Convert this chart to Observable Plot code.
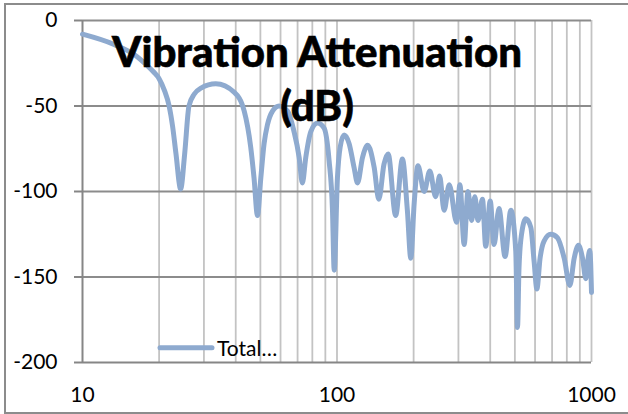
<!DOCTYPE html>
<html><head><meta charset="utf-8">
<script src="https://cdn.jsdelivr.net/npm/d3@7"></script>
<script src="https://cdn.jsdelivr.net/npm/@observablehq/plot@0.6"></script>
<style>
body{margin:0;background:#fff;}
#wrap{position:relative;width:628px;height:414px;overflow:hidden;font-family:Lato,sans-serif;background:#fff;}
#border{position:absolute;left:4px;top:3px;width:660px;height:411px;border:2px solid #8c8c8c;box-sizing:border-box;}
#chart{position:absolute;left:0;top:0;}
#over{position:absolute;left:0;top:0;pointer-events:none;}
</style></head>
<body>
<div id="wrap"><div id="border"></div><div id="chart"></div>
<svg id="over" width="628" height="414" font-family="Lato, sans-serif">
  <text x="317" y="66.5" text-anchor="middle" font-weight="900" font-size="42" stroke="black" stroke-width="0.6">Vibration Attenuation</text>
  <text x="317" y="120.5" text-anchor="middle" font-weight="900" font-size="42" stroke="black" stroke-width="0.6">(dB)</text>
  <line x1="160" x2="212" y1="347.7" y2="347.7" stroke="#8eaacf" stroke-width="5" stroke-linecap="round"/>
  <text x="217" y="355.7" font-size="21">Total…</text>
</svg>
</div>
<script>
const freq = [10,13.3,16,18,19,20,21,21.9,22.6,23.3,24.3,25.2,26.2,27.5,29.2,33.4,39.5,43.2,45.8,47.2,48.7,50.2,51.7,53.3,55.8,59.2,63.9,67.8,71,73.1,75.4,78.9,83.8,89,93.1,96,97.5,100.4,102.9,106.6,111.6,116.7,120.4,126,132,140,146,153,158.8,170,180.7,189,195,201,208,220,231.6,244,253,263.6,276,295,304,316,327,338,348,358,373,384,400,414,433,457.5,482,504,512,519,531,552,577.5,595,610,628,651,692,735,781,822,855,889,922,950,970,985,1000];
const atten = [-8,-14,-20,-26.5,-30,-34,-41,-50,-62,-78,-98.5,-78,-50,-43,-39.5,-37,-42,-53,-74,-92,-114,-92,-72,-61,-53,-50,-53,-65,-80,-95,-80,-65,-60,-63,-82,-111,-146,-92,-74,-67,-72,-86,-95,-80,-73,-86,-104.5,-84,-78,-114,-81,-111,-139,-107,-85,-100,-88,-103,-91,-111,-96,-118,-96,-131,-100,-117,-103,-117,-104.5,-132,-105.5,-131,-110,-138,-111,-135,-179.5,-144.5,-125,-116,-121,-141,-157,-139,-129,-125,-127,-139,-155,-139,-131.5,-139,-151,-139,-134.5,-159];
const xGrid = [20,30,40,50,60,70,80,90,100,200,300,400,500,600,700,800,900,1000];
const yGrid = [0,-50,-100,-150];
const xTicks = [10,100,1000];
const yTicks = [0,-50,-100,-150,-200];
const seriesName = "Total…";

const data = freq.map((f,i)=>({f, db: atten[i]}));

const chart = Plot.plot({
  width: 628, height: 414,
  marginLeft: 82, marginRight: 37, marginTop: 20, marginBottom: 52,
  style: {fontFamily: "Lato, sans-serif", fontSize: "21px", background: "transparent", color: "black"},
  x: {type: "log", domain: [10, 1000]},
  y: {domain: [-200, 0]},
  marks: [
    Plot.ruleX(xGrid, {stroke: "#c3c3c3", strokeWidth: 1.8}),
    Plot.ruleY(yGrid, {stroke: "#8c8c8c", strokeWidth: 2}),
    Plot.ruleX([10], {stroke: "#868686", strokeWidth: 2}),
    Plot.ruleY([-200], {stroke: "#868686", strokeWidth: 2}),
    Plot.axisY({ticks: yTicks, tickSize: 8, tickPadding: 17, tickFormat: d => String(d), stroke: "#868686", strokeWidth: 2, fill: "black", fontSize: 21, label: null}),
    Plot.axisX({ticks: xTicks, tickSize: 0, tickPadding: 25, tickFormat: d => String(d), fill: "black", fontSize: 21, label: null}),
    Plot.line(data, {x: "f", y: "db", stroke: "#8eaacf", strokeWidth: 5, curve: "monotone-x", strokeLinejoin: "round", strokeLinecap: "round"})
  ]
});
document.getElementById("chart").appendChild(chart);
</script>
</body></html>
